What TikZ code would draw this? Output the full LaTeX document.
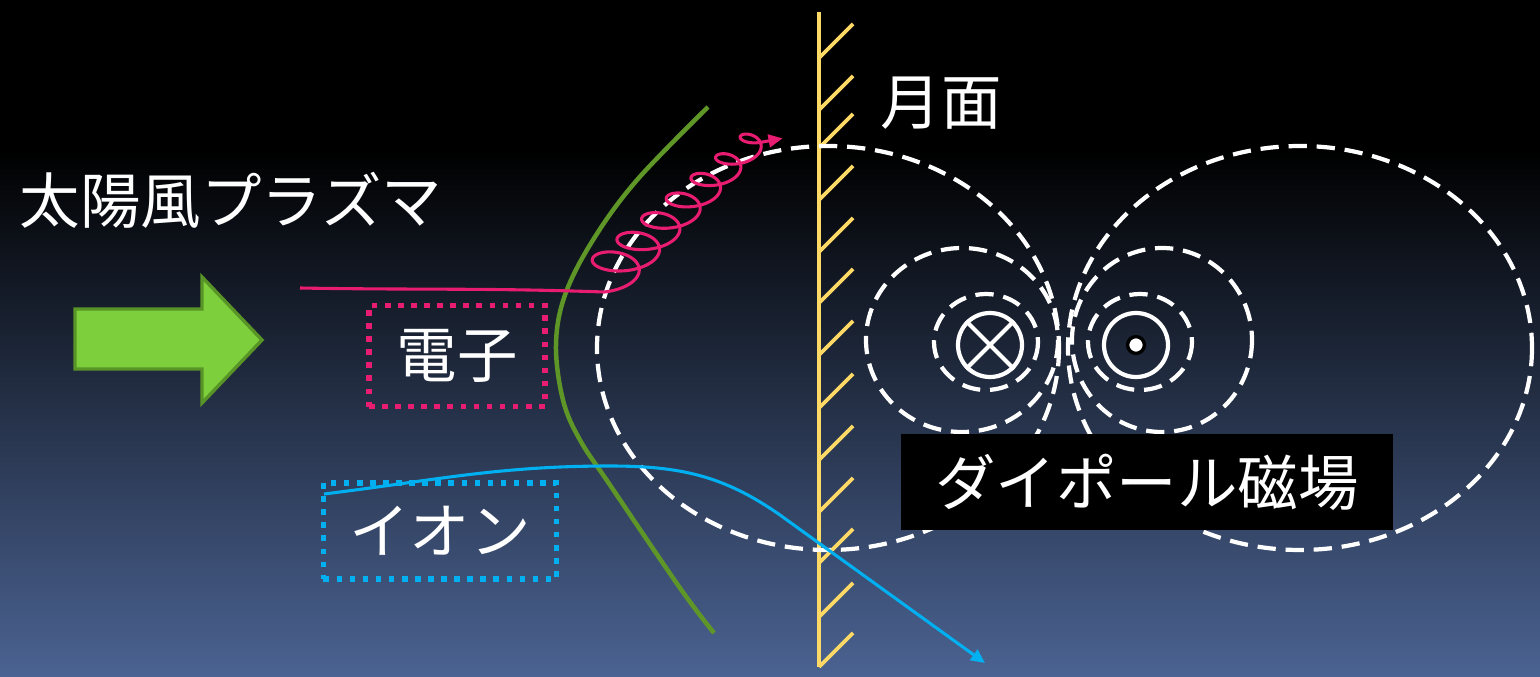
\documentclass[tikz,border=0pt]{standalone}
\usepackage{fontspec}
\setmainfont{Noto Sans CJK JP}
\usepackage{xcolor}
\usetikzlibrary{arrows.meta,positioning}

\definecolor{wallyellow}{RGB}{255,217,102}
\definecolor{elecpink}{RGB}{232,28,112}
\definecolor{ioncyan}{RGB}{0,176,240}
\definecolor{windgreen}{RGB}{125,208,60}
\definecolor{winddark}{RGB}{88,148,38}
\definecolor{shockgreen}{RGB}{95,150,40}
\definecolor{nightblue}{RGB}{75,99,146}

\begin{document}
\begin{tikzpicture}[
    x=0.025cm, y=-0.025cm,
    jlabel/.style={text=white, font=\fontsize{43}{50}\selectfont, inner sep=0pt},
    dotbox/.style={rectangle, line width=4pt, dash pattern=on 4pt off 5.3pt, text=white, font=\fontsize{43}{50}\selectfont, inner sep=0pt},
    wall/.style={draw=wallyellow, line width=2.6pt},
    fieldline/.style={draw=white, line width=3pt, dash pattern=on 13pt off 7pt},
    pole/.style={circle, draw=white, line width=3pt, minimum size=1.6cm, inner sep=0pt},
    orbit/.style={line width=2.2pt, -{Triangle[length=10pt,width=9pt]}},
]
    \useasboundingbox (0,0) rectangle (1540,677);
    % night sky
    \fill[black] (0,0) rectangle (1540,677);
    \shade[top color=black, bottom color=nightblue] (0,150) rectangle (1540,677);

    % lunar surface with hatching
    \draw[wall] (819,12) coordinate (walltop) -- (819,667) coordinate (wallfoot);
    \foreach \h in {58,110,148,200,252,303,355,408,460,512,563,617,667}
        \draw[wall] (819,\h) -- ++(34,-34);

    % dipole field lines
    \draw[fieldline] (828,348) ellipse [x radius=231, y radius=202];
    \draw[fieldline] (1300,348) ellipse [x radius=232, y radius=202];
    \draw[fieldline] (962,340) ellipse [x radius=96, y radius=92];
    \draw[fieldline] (1162,340) ellipse [x radius=90, y radius=92];
    \draw[fieldline] (986,342) ellipse [x radius=52, y radius=48];
    \draw[fieldline] (1140,342) ellipse [x radius=52, y radius=48];

    % poles
    \node[pole] (inpole) at (990,345) {};
    \draw[draw=white, line width=3pt] (inpole.north east) -- (inpole.south west)
        (inpole.north west) -- (inpole.south east);
    \node[pole] (outpole) at (1136,345) {};
    \node[circle, fill=white, draw=black, line width=2.4pt, minimum size=0.42cm, inner sep=0pt] (outdot) at (outpole.center) {};

    % solar wind arrow
    \draw[fill=windgreen, draw=winddark, line width=2.4pt] (75,309) -- (202,309) -- (202,277)
        -- (262,340) -- (202,403) -- (202,369) -- (75,369) -- cycle;

    % bow shock
    \draw[shockgreen, line width=3.2pt] plot[smooth, tension=0.6] coordinates {(708,107) (637,180) (593,240) (565,295) (556,345) (563,400) (580,440) (610,485) (680,588) (714,633)};

    % electron gyrating along the field line
    \draw[orbit, elecpink] (300,288) to[out=-1, in=178] (604,292)
        -- plot[domain=0:7, samples=600, smooth] ({604+22.5*\x+(30-2.2*\x)*sin(360*\x)}, {277-20.5*\x+(15-0.9*\x)*cos(360*\x)})
        -- ++(22,-4);

    % ion path through the surface
    \draw[orbit, ioncyan] (324,494) to[out=7, in=180] (610,466) to[out=0, in=145] (780,515) -- (985,663);

    % labels
    \node[jlabel] (windlbl) at (231,200) {太陽風プラズマ};
    \node[jlabel] (moonlbl) at (941,103) {月面};
    \node[dotbox, draw=elecpink, minimum width=4.4cm, minimum height=2.525cm] (elecbox) at (457,356) {電子};
    \node[dotbox, draw=ioncyan, minimum width=5.825cm, minimum height=2.4cm] (ionbox) at (440,531) {イオン};
    \node[jlabel, fill=black, minimum width=12.3cm, minimum height=2.4cm] (dipolelbl) at (1147,482) {ダイポール磁場};
\end{tikzpicture}
\end{document}
